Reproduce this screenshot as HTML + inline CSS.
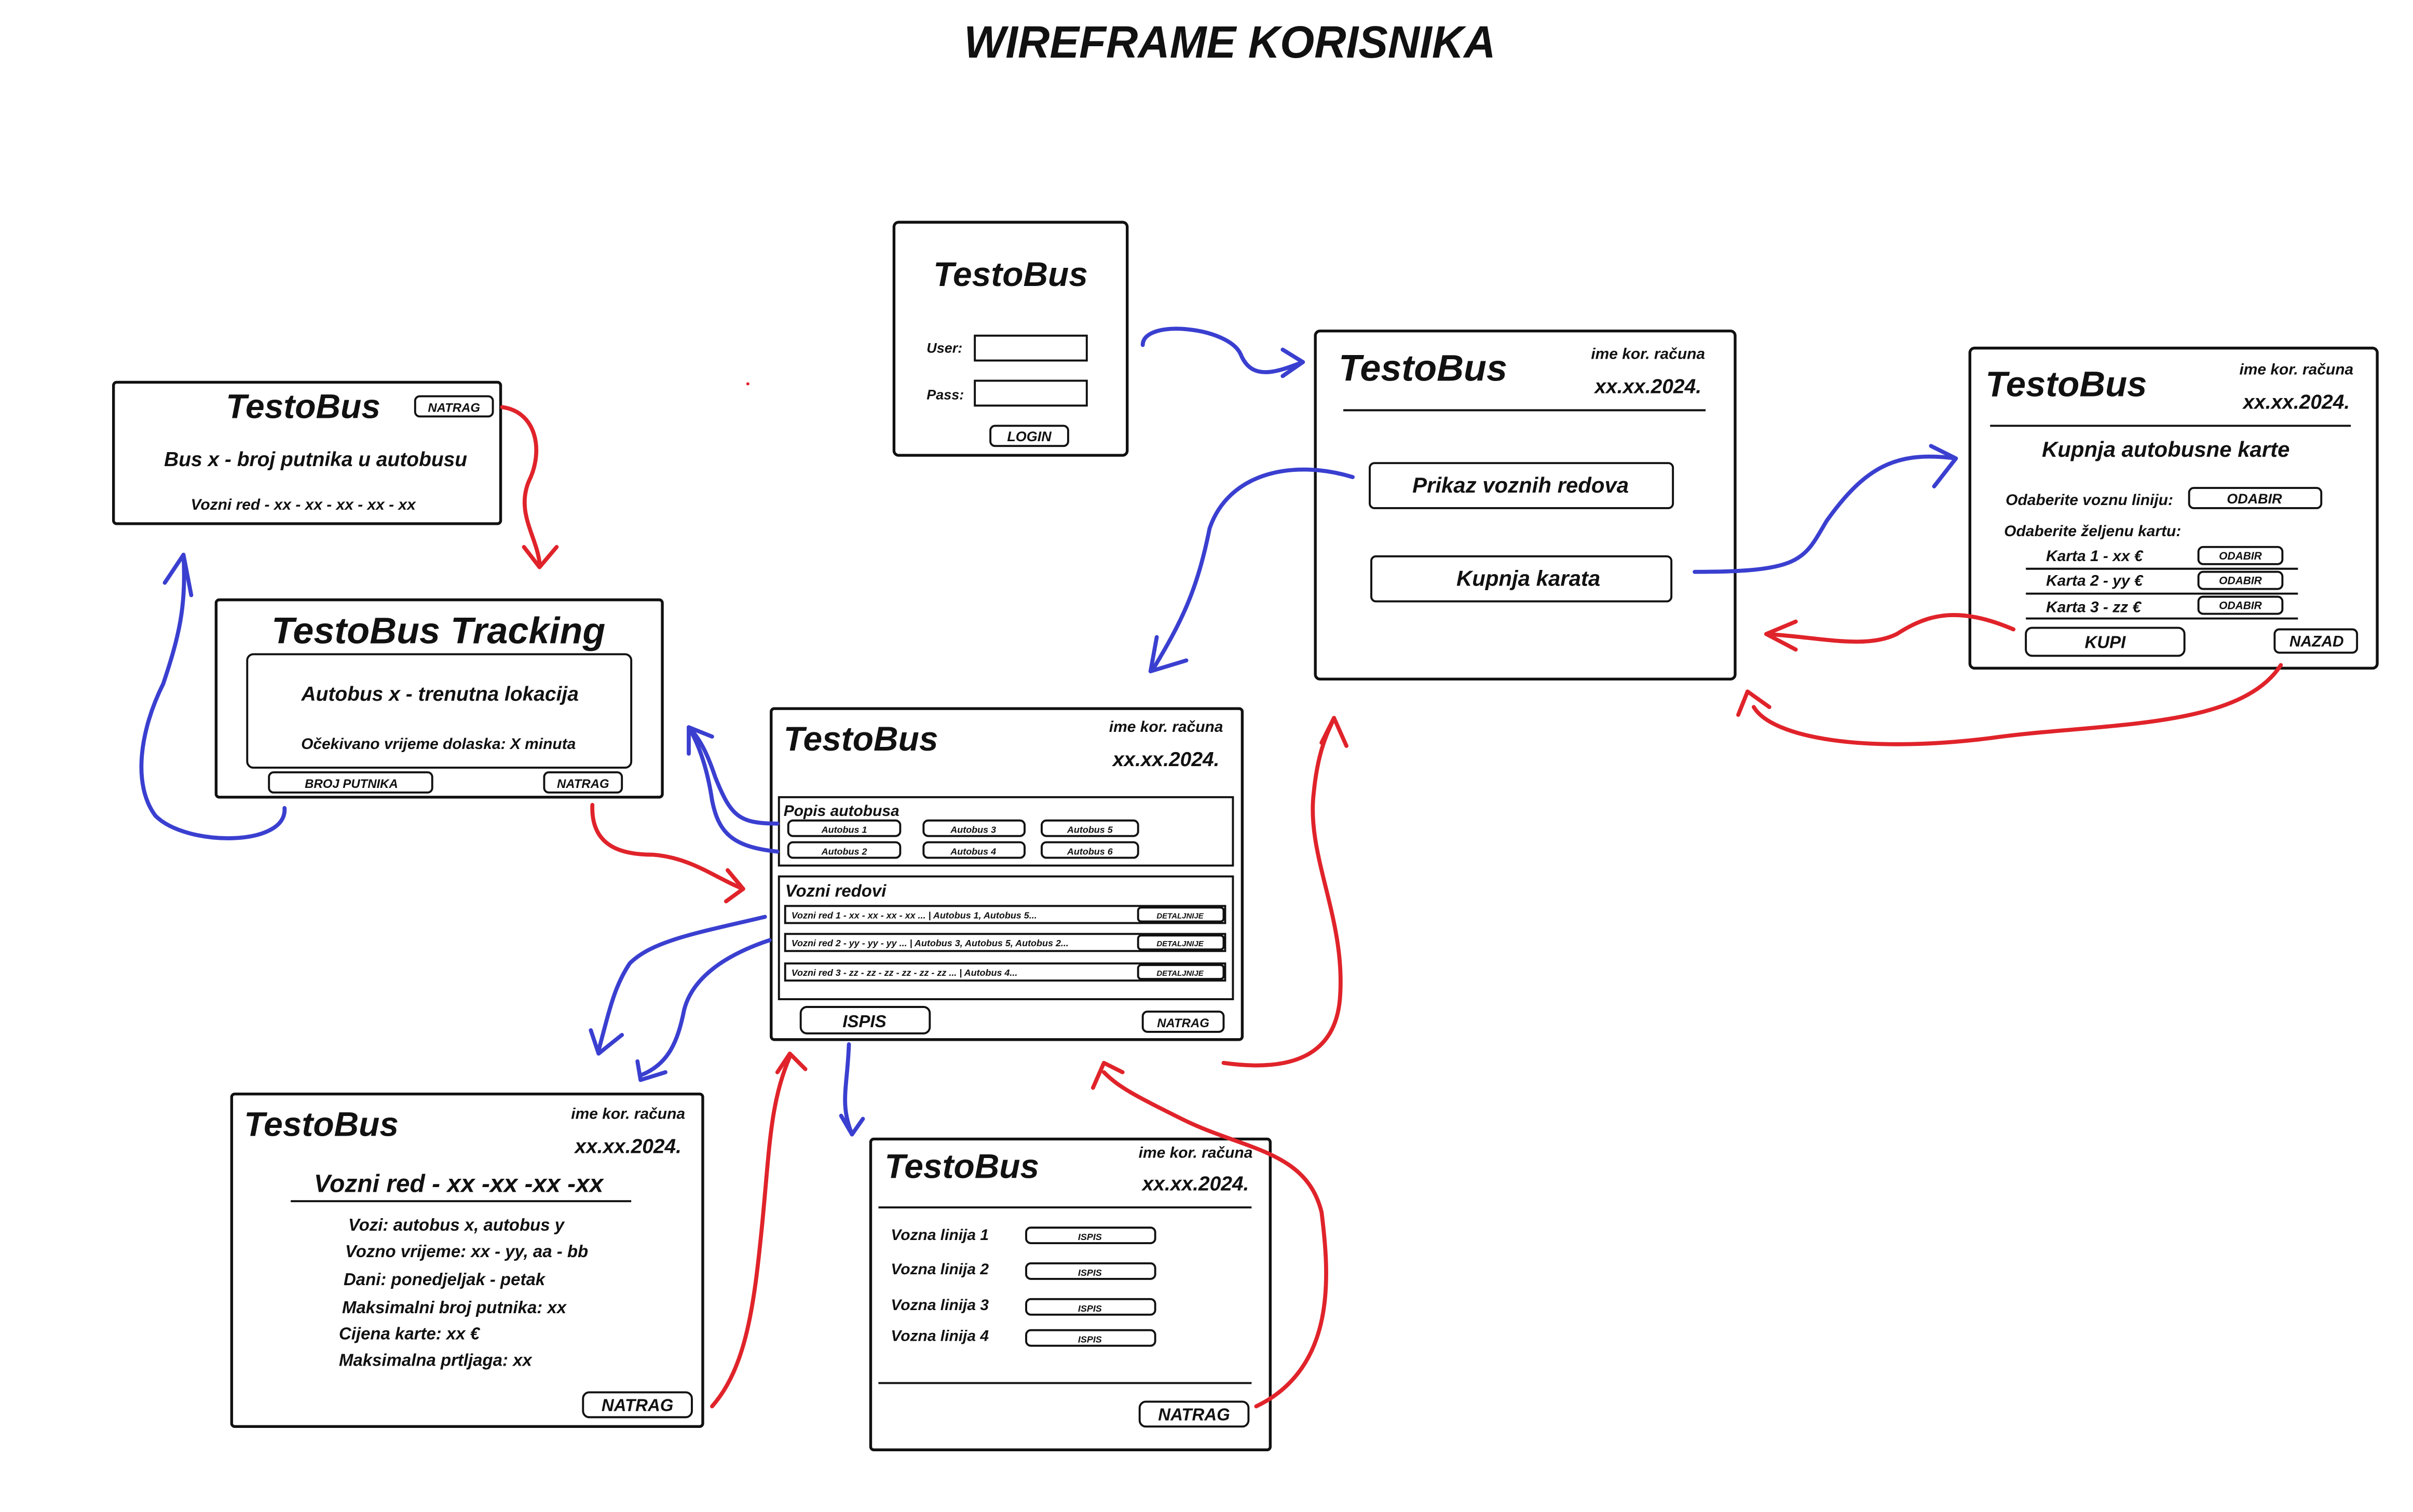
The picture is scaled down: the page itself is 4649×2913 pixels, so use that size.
<!DOCTYPE html>
<html><head><meta charset="utf-8"><style>
html,body{margin:0;padding:0;background:#fff;}
svg{display:block;}
text{font-family:"Liberation Sans",sans-serif;font-style:italic;font-weight:bold;fill:#111;}
.b{fill:#fff;stroke:#111;stroke-width:1.3;}
.bx{fill:#fff;stroke:#111;stroke-width:1.8;}
.bl{fill:none;stroke:#3a3fd0;stroke-width:2.6;stroke-linecap:round;stroke-linejoin:round;}
.rd{fill:none;stroke:#e0232a;stroke-width:2.6;stroke-linecap:round;stroke-linejoin:round;}
.ln{stroke:#111;stroke-width:1.3;}
</style></head><body>
<svg width="4649" height="2913" viewBox="0 0 1552 973" preserveAspectRatio="none" xmlns="http://www.w3.org/2000/svg">
<text x="791" y="37" font-size="29" text-anchor="middle" textLength="342" lengthAdjust="spacingAndGlyphs">WIREFRAME KORISNIKA</text>

<!-- Login -->
<rect class="bx" x="575" y="143" width="150" height="150" rx="3"/>
<text x="650" y="184" font-size="22" text-anchor="middle">TestoBus</text>
<text x="596" y="227" font-size="9">User:</text>
<rect class="b" x="627" y="216" width="72" height="16"/>
<text x="596" y="257" font-size="9">Pass:</text>
<rect class="b" x="627" y="245" width="72" height="16"/>
<rect class="b" x="637" y="274" width="50" height="13" rx="3"/>
<text x="662" y="284" font-size="9" text-anchor="middle">LOGIN</text>

<!-- Main menu -->
<rect class="bx" x="846" y="213" width="270" height="224" rx="3"/>
<text x="861" y="245" font-size="24">TestoBus</text>
<text x="1060" y="231" font-size="10" text-anchor="middle">ime kor. računa</text>
<text x="1060" y="253" font-size="13" text-anchor="middle">xx.xx.2024.</text>
<line class="ln" x1="864" y1="264" x2="1097" y2="264"/>
<rect class="b" x="881" y="298" width="195" height="29" rx="3"/>
<text x="978" y="317" font-size="14" text-anchor="middle">Prikaz voznih redova</text>
<rect class="b" x="882" y="358" width="193" height="29" rx="3"/>
<text x="983" y="377" font-size="14" text-anchor="middle">Kupnja karata</text>

<!-- Purchase -->
<rect class="bx" x="1267" y="224" width="262" height="206" rx="3"/>
<text x="1277" y="255" font-size="23">TestoBus</text>
<text x="1477" y="241" font-size="10" text-anchor="middle">ime kor. računa</text>
<text x="1477" y="263" font-size="13" text-anchor="middle">xx.xx.2024.</text>
<line class="ln" x1="1280" y1="274" x2="1512" y2="274"/>
<text x="1393" y="294" font-size="14" text-anchor="middle">Kupnja autobusne karte</text>
<text x="1290" y="325" font-size="10">Odaberite voznu liniju:</text>
<rect class="b" x="1408" y="314" width="85" height="13" rx="3"/>
<text x="1450" y="324" font-size="9" text-anchor="middle">ODABIR</text>
<text x="1289" y="345" font-size="10">Odaberite željenu kartu:</text>
<text x="1316" y="361" font-size="10">Karta 1 - xx €</text>
<rect class="b" x="1414" y="352" width="54" height="11" rx="3"/>
<text x="1441" y="360" font-size="7" text-anchor="middle">ODABIR</text>
<line class="ln" x1="1303" y1="366" x2="1478" y2="366"/>
<text x="1316" y="377" font-size="10">Karta 2 - yy €</text>
<rect class="b" x="1414" y="368" width="54" height="11" rx="3"/>
<text x="1441" y="376" font-size="7" text-anchor="middle">ODABIR</text>
<line class="ln" x1="1303" y1="382" x2="1478" y2="382"/>
<text x="1316" y="394" font-size="10">Karta 3 - zz €</text>
<rect class="b" x="1414" y="384" width="54" height="11" rx="3"/>
<text x="1441" y="392" font-size="7" text-anchor="middle">ODABIR</text>
<line class="ln" x1="1303" y1="398" x2="1478" y2="398"/>
<rect class="b" x="1303" y="404" width="102" height="18" rx="4"/>
<text x="1354" y="417" font-size="11" text-anchor="middle">KUPI</text>
<rect class="b" x="1463" y="405" width="53" height="15" rx="3"/>
<text x="1490" y="416" font-size="10" text-anchor="middle">NAZAD</text>

<!-- Bus count -->
<rect class="bx" x="73" y="246" width="249" height="91" rx="2"/>
<text x="195" y="269" font-size="22" text-anchor="middle">TestoBus</text>
<rect class="b" x="267" y="255" width="50" height="13" rx="3"/>
<text x="292" y="265" font-size="8" text-anchor="middle">NATRAG</text>
<text x="203" y="300" font-size="13" text-anchor="middle">Bus x - broj putnika u autobusu</text>
<text x="195" y="328" font-size="10" text-anchor="middle">Vozni red - xx - xx - xx - xx - xx</text>

<!-- Tracking -->
<rect class="bx" x="139" y="386" width="287" height="127" rx="2"/>
<text x="282" y="414" font-size="24" text-anchor="middle">TestoBus Tracking</text>
<rect class="b" x="159" y="421" width="247" height="73" rx="4"/>
<text x="283" y="451" font-size="13" text-anchor="middle">Autobus x - trenutna lokacija</text>
<text x="282" y="482" font-size="10" text-anchor="middle">Očekivano vrijeme dolaska: X minuta</text>
<rect class="b" x="173" y="497" width="105" height="13" rx="3"/>
<text x="226" y="507" font-size="8" text-anchor="middle">BROJ PUTNIKA</text>
<rect class="b" x="350" y="497" width="50" height="13" rx="3"/>
<text x="375" y="507" font-size="8" text-anchor="middle">NATRAG</text>

<!-- Center -->
<rect class="bx" x="496" y="456" width="303" height="213" rx="2"/>
<text x="504" y="483" font-size="22">TestoBus</text>
<text x="750" y="471" font-size="10" text-anchor="middle">ime kor. računa</text>
<text x="750" y="493" font-size="13" text-anchor="middle">xx.xx.2024.</text>
<rect class="b" x="501" y="513" width="292" height="44"/>
<text x="504" y="525" font-size="10">Popis autobusa</text>
<rect class="b" x="507" y="528" width="72" height="10" rx="3"/><text x="543" y="536" font-size="6" text-anchor="middle">Autobus 1</text>
<rect class="b" x="594" y="528" width="65" height="10" rx="3"/><text x="626" y="536" font-size="6" text-anchor="middle">Autobus 3</text>
<rect class="b" x="670" y="528" width="62" height="10" rx="3"/><text x="701" y="536" font-size="6" text-anchor="middle">Autobus 5</text>
<rect class="b" x="507" y="542" width="72" height="10" rx="3"/><text x="543" y="550" font-size="6" text-anchor="middle">Autobus 2</text>
<rect class="b" x="594" y="542" width="65" height="10" rx="3"/><text x="626" y="550" font-size="6" text-anchor="middle">Autobus 4</text>
<rect class="b" x="670" y="542" width="62" height="10" rx="3"/><text x="701" y="550" font-size="6" text-anchor="middle">Autobus 6</text>
<rect class="b" x="501" y="564" width="292" height="79"/>
<text x="505" y="577" font-size="11">Vozni redovi</text>
<rect class="b" x="505" y="583" width="283" height="11"/>
<text x="509" y="591" font-size="6">Vozni red 1 - xx - xx - xx - xx ... | Autobus 1, Autobus 5...</text>
<rect class="b" x="732" y="584" width="55" height="9" rx="2"/><text x="759" y="591" font-size="5" text-anchor="middle">DETALJNIJE</text>
<rect class="b" x="505" y="601" width="283" height="11"/>
<text x="509" y="609" font-size="6">Vozni red 2 - yy - yy - yy ... | Autobus 3, Autobus 5, Autobus 2...</text>
<rect class="b" x="732" y="602" width="55" height="9" rx="2"/><text x="759" y="609" font-size="5" text-anchor="middle">DETALJNIJE</text>
<rect class="b" x="505" y="620" width="283" height="11"/>
<text x="509" y="628" font-size="6">Vozni red 3 - zz - zz - zz - zz - zz - zz ... | Autobus 4...</text>
<rect class="b" x="732" y="621" width="55" height="9" rx="2"/><text x="759" y="628" font-size="5" text-anchor="middle">DETALJNIJE</text>
<rect class="b" x="515" y="648" width="83" height="17" rx="4"/>
<text x="556" y="661" font-size="11" text-anchor="middle">ISPIS</text>
<rect class="b" x="735" y="651" width="52" height="13" rx="3"/>
<text x="761" y="661" font-size="8" text-anchor="middle">NATRAG</text>

<!-- Vozni red detail -->
<rect class="bx" x="149" y="704" width="303" height="214" rx="2"/>
<text x="157" y="731" font-size="22">TestoBus</text>
<text x="404" y="720" font-size="10" text-anchor="middle">ime kor. računa</text>
<text x="404" y="742" font-size="13" text-anchor="middle">xx.xx.2024.</text>
<text x="295" y="767" font-size="16" text-anchor="middle">Vozni red - xx -xx -xx -xx</text>
<line class="ln" x1="187" y1="773" x2="406" y2="773"/>
<text x="224" y="792" font-size="11">Vozi: autobus x, autobus y</text>
<text x="222" y="809" font-size="11">Vozno vrijeme: xx - yy, aa - bb</text>
<text x="221" y="827" font-size="11">Dani: ponedjeljak - petak</text>
<text x="220" y="845" font-size="11">Maksimalni broj putnika: xx</text>
<text x="218" y="862" font-size="11">Cijena karte: xx €</text>
<text x="218" y="879" font-size="11">Maksimalna prtljaga: xx</text>
<rect class="b" x="375" y="896" width="70" height="16" rx="4"/>
<text x="410" y="908" font-size="11" text-anchor="middle">NATRAG</text>

<!-- Lines -->
<rect class="bx" x="560" y="733" width="257" height="200" rx="2"/>
<text x="569" y="758" font-size="22">TestoBus</text>
<text x="769" y="745" font-size="10" text-anchor="middle">ime kor. računa</text>
<text x="769" y="766" font-size="13" text-anchor="middle">xx.xx.2024.</text>
<line class="ln" x1="565" y1="777" x2="805" y2="777"/>
<text x="573" y="798" font-size="10">Vozna linija 1</text>
<rect class="b" x="660" y="790" width="83" height="10" rx="3"/><text x="701" y="798" font-size="6" text-anchor="middle">ISPIS</text>
<text x="573" y="820" font-size="10">Vozna linija 2</text>
<rect class="b" x="660" y="813" width="83" height="10" rx="3"/><text x="701" y="821" font-size="6" text-anchor="middle">ISPIS</text>
<text x="573" y="843" font-size="10">Vozna linija 3</text>
<rect class="b" x="660" y="836" width="83" height="10" rx="3"/><text x="701" y="844" font-size="6" text-anchor="middle">ISPIS</text>
<text x="573" y="863" font-size="10">Vozna linija 4</text>
<rect class="b" x="660" y="856" width="83" height="10" rx="3"/><text x="701" y="864" font-size="6" text-anchor="middle">ISPIS</text>
<line class="ln" x1="565" y1="890" x2="805" y2="890"/>
<rect class="b" x="733" y="902" width="70" height="16" rx="4"/>
<text x="768" y="914" font-size="11" text-anchor="middle">NATRAG</text>

<circle cx="481" cy="247" r="1" fill="#e0232a"/>

<!-- Blue arrows -->
<path class="bl" d="M735,222 C735,205 790,210 798,228 C805,245 820,240 838,233"/>
<polyline class="bl" points="825,225 838,233 825,242"/>
<path class="bl" d="M870,307 C830,295 790,305 778,340 C770,380 760,400 742,430"/>
<polyline class="bl" points="744,410 740,432 763,425"/>
<path class="bl" d="M1090,368 C1160,368 1160,360 1175,335 C1200,300 1220,290 1258,295"/>
<polyline class="bl" points="1242,287 1258,295 1244,313"/>
<path class="bl" d="M183,520 C185,545 120,545 100,525 C85,505 90,470 105,440 C115,410 120,390 118,357"/>
<polyline class="bl" points="106,375 118,357 123,383"/>
<path class="bl" d="M500,530 C475,530 470,525 460,500 C455,485 450,475 443,468"/>
<path class="bl" d="M500,548 C470,545 462,535 458,515 C455,495 450,480 443,468"/>
<polyline class="bl" points="443,485 443,468 458,474"/>
<path class="bl" d="M492,590 C450,600 420,605 405,620 C395,635 392,650 385,676"/>
<polyline class="bl" points="380,663 385,678 400,666"/>
<path class="bl" d="M495,605 C465,615 445,630 440,650 C436,670 430,685 412,692"/>
<polyline class="bl" points="410,683 412,695 428,690"/>
<path class="bl" d="M546,672 C545,700 540,710 548,730"/>
<polyline class="bl" points="541,718 548,730 555,720"/>

<!-- Red arrows -->
<path class="rd" d="M1295,405 C1260,390 1240,395 1220,408 C1200,418 1170,410 1136,408"/>
<polyline class="rd" points="1155,400 1136,408 1155,418"/>
<path class="rd" d="M1467,428 C1440,470 1350,465 1280,475 C1200,485 1140,475 1128,455"/>
<polyline class="rd" points="1118,460 1124,445 1138,455"/>
<path class="rd" d="M787,684 C830,690 860,680 862,640 C865,590 840,550 845,510 C848,480 855,470 858,462"/>
<polyline class="rd" points="850,478 858,462 866,480"/>
<path class="rd" d="M323,262 C345,265 350,290 340,310 C332,330 345,345 347,362"/>
<polyline class="rd" points="337,352 347,365 358,352"/>
<path class="rd" d="M381,518 C380,545 400,550 420,550 C445,552 460,565 478,572"/>
<polyline class="rd" points="468,560 478,572 467,580"/>
<path class="rd" d="M458,905 C480,880 485,840 490,790 C495,740 495,710 508,680"/>
<polyline class="rd" points="500,690 508,678 518,688"/>
<path class="rd" d="M808,905 C860,880 855,820 850,780 C840,740 800,740 760,720 C730,705 720,700 710,690"/>
<polyline class="rd" points="703,700 710,684 722,690"/>
</svg>
</body></html>
